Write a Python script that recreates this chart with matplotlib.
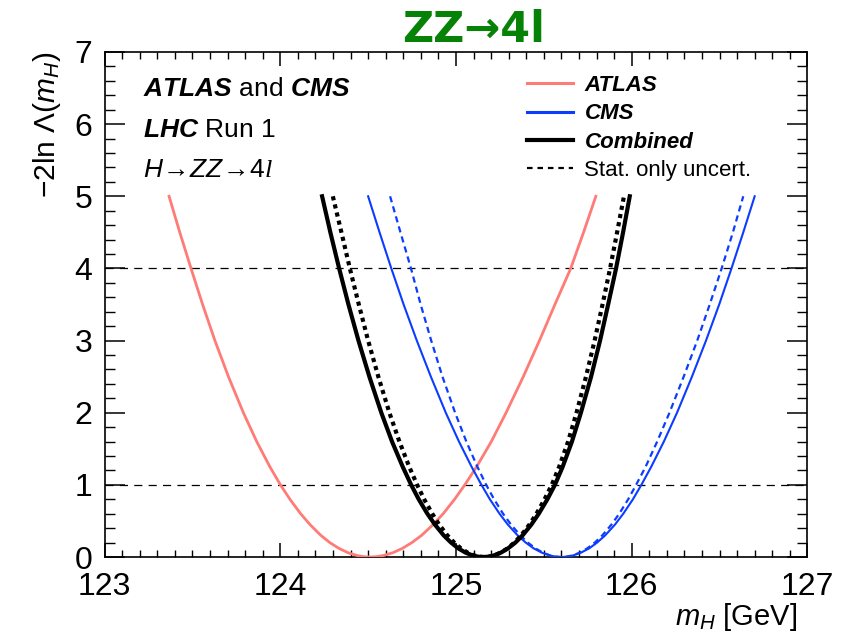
import matplotlib
matplotlib.use("Agg")
import matplotlib.pyplot as plt
from matplotlib.ticker import MultipleLocator
from matplotlib.lines import Line2D

# ---- likelihood scans: -2 ln Lambda levels and the m_H [GeV] where each curve reaches them ----
scan_v = [5.0, 4.5, 4.0, 3.5, 3.0, 2.5, 2.0, 1.6, 1.25, 1.0, 0.8, 0.6, 0.45, 0.3, 0.2,
          0.12, 0.06, 0.02, 0.005, 0.0, 0.005, 0.02, 0.06, 0.12, 0.2, 0.3, 0.45, 0.6,
          0.8, 1.0, 1.25, 1.6, 2.0, 2.5, 3.0, 3.5, 4.0, 4.5, 5.0]

atlas_m = [123.367, 123.428, 123.492, 123.558, 123.628, 123.705, 123.790, 123.866,
           123.941, 124.001, 124.055, 124.116, 124.169, 124.231, 124.282, 124.334,
           124.385, 124.438, 124.474, 124.510, 124.548, 124.586, 124.641, 124.695,
           124.749, 124.804, 124.870, 124.927, 124.992, 125.050, 125.117, 125.201,
           125.285, 125.383, 125.475, 125.563, 125.653, 125.726, 125.796]

cms_m = [124.500, 124.565, 124.632, 124.702, 124.777, 124.857, 124.942, 125.017,
         125.089, 125.145, 125.193, 125.248, 125.295, 125.351, 125.397, 125.442,
         125.489, 125.536, 125.568, 125.600, 125.632, 125.664, 125.711, 125.758,
         125.803, 125.849, 125.905, 125.952, 126.007, 126.055, 126.111, 126.183,
         126.258, 126.343, 126.423, 126.498, 126.568, 126.635, 126.700]

cms_stat_m = [124.625, 124.684, 124.744, 124.799, 124.859, 124.923, 124.995, 125.059,
              125.122, 125.172, 125.217, 125.268, 125.313, 125.366, 125.409, 125.452,
              125.495, 125.539, 125.570, 125.600, 125.630, 125.660, 125.704, 125.747,
              125.790, 125.833, 125.885, 125.929, 125.980, 126.025, 126.079, 126.145,
              126.215, 126.296, 126.373, 126.444, 126.512, 126.576, 126.635]

comb_m = [124.238, 124.285, 124.335, 124.388, 124.445, 124.507, 124.575, 124.636,
          124.697, 124.745, 124.788, 124.837, 124.880, 124.930, 124.972, 125.013,
          125.055, 125.097, 125.126, 125.155, 125.184, 125.213, 125.255, 125.296,
          125.338, 125.379, 125.429, 125.471, 125.520, 125.563, 125.607, 125.660,
          125.711, 125.769, 125.820, 125.866, 125.911, 125.951, 125.989]

comb_stat_m = [124.299, 124.348, 124.396, 124.447, 124.500, 124.558, 124.621, 124.678,
               124.734, 124.779, 124.819, 124.865, 124.904, 124.951, 124.990, 125.028,
               125.067, 125.106, 125.133, 125.160, 125.187, 125.214, 125.254, 125.293,
               125.332, 125.371, 125.418, 125.458, 125.504, 125.545, 125.587, 125.638,
               125.686, 125.740, 125.789, 125.834, 125.877, 125.917, 125.956]

ref_levels = [1, 4]
legend_labels = ["ATLAS", "CMS", "Combined", "Stat. only uncert."]

C_ATLAS = "#ff7b76"
C_CMS = "#0b3cff"
C_TITLE = "#068306"

plt.rcParams["font.family"] = ["Liberation Sans", "DejaVu Sans"]
plt.rcParams["mathtext.fontset"] = "custom"
plt.rcParams["mathtext.rm"] = "Liberation Sans"
plt.rcParams["mathtext.it"] = "Liberation Sans:italic"
plt.rcParams["mathtext.bf"] = "Liberation Sans:bold"
plt.rcParams["mathtext.bfit"] = "Liberation Sans:bold:italic"
plt.rcParams["mathtext.cal"] = "Liberation Serif:italic"

fig = plt.figure(figsize=(8.42, 6.41), dpi=100)
ax = fig.add_axes([0.1242, 0.1310, 0.8347, 0.7879])

ax.set_xlim(123, 127)
ax.set_ylim(0, 7)

for lev in ref_levels:
    ax.axhline(lev, color="black", lw=0.9, ls=(0, (6.5, 5)), zorder=1)

ax.plot(atlas_m, scan_v, color=C_ATLAS, lw=2.0, zorder=3)
ax.plot(cms_stat_m, scan_v, color=C_CMS, lw=1.6, ls=(0, (2.8, 1.9)), zorder=3)
ax.plot(cms_m, scan_v, color=C_CMS, lw=1.5, zorder=3)
ax.plot(comb_stat_m, scan_v, color="black", lw=3.0, ls=(0, (1.0, 1.0)), zorder=4)
ax.plot(comb_m, scan_v, color="black", lw=3.0, zorder=4)

# ROOT-style frame and ticks
for s in ax.spines.values():
    s.set_linewidth(1.2)
ax.xaxis.set_major_locator(MultipleLocator(1))
ax.xaxis.set_minor_locator(MultipleLocator(0.1))
ax.yaxis.set_major_locator(MultipleLocator(1))
ax.yaxis.set_minor_locator(MultipleLocator(0.2))
ax.tick_params(axis="x", which="major", direction="in", top=True, length=10, width=1.1, pad=11)
ax.tick_params(axis="x", which="minor", direction="in", top=True, length=5, width=1.0)
ax.tick_params(axis="y", which="major", direction="in", right=True, length=14.5, width=1.1, pad=9)
ax.tick_params(axis="y", which="minor", direction="in", right=True, length=7.5, width=1.0)
for lab in ax.get_xticklabels() + ax.get_yticklabels():
    lab.set_fontsize(23)

ax.set_xlabel(r"$m_{H}$ [GeV]", fontsize=21, loc="right")
ax.xaxis.set_label_coords(0.986, -0.088)
ax.set_ylabel(r"$-$2ln $\Lambda(m_{H})$", fontsize=21.5, loc="top", labelpad=8)

fig.text(0.562, 0.934, "ZZ\u21924l", color=C_TITLE, fontsize=31, fontweight="bold",
         family=["DejaVu Sans"], ha="center", va="baseline")

# Experiment labels
tx = 0.055
ax.text(tx, 0.912, r"$\mathbfit{ATLAS}$ and $\mathbfit{CMS}$", transform=ax.transAxes,
        fontsize=19, ha="left", va="baseline")
ax.text(tx, 0.831, r"$\mathbfit{LHC}$ Run 1", transform=ax.transAxes,
        fontsize=19, ha="left", va="baseline")
ax.text(tx, 0.752, r"$H\!\rightarrow\! ZZ\!\rightarrow\! 4\mathcal{l}$", transform=ax.transAxes,
        fontsize=19, ha="left", va="baseline")

handles = [
    Line2D([], [], color=C_ATLAS, lw=2.2),
    Line2D([], [], color=C_CMS, lw=2.2),
    Line2D([], [], color="black", lw=3.0),
    Line2D([], [], color="black", lw=1.6, ls=(0, (2.5, 2.2))),
]
leg = ax.legend(handles, legend_labels, loc="upper left", bbox_to_anchor=(0.588, 0.972),
                frameon=False, fontsize=16, handlelength=2.1, handletextpad=0.5,
                labelspacing=0.33, borderaxespad=0.0)
for i, t in enumerate(leg.get_texts()):
    if i < 3:
        t.set_fontweight("bold")
        t.set_fontstyle("italic")

fig.savefig("out.png", dpi=100)
